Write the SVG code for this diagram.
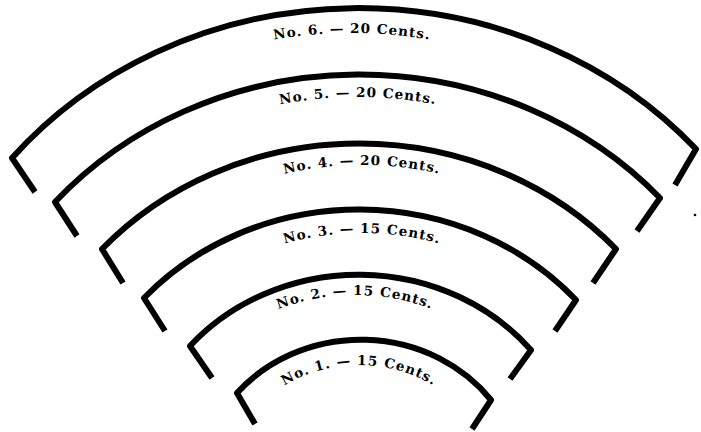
<svg xmlns="http://www.w3.org/2000/svg" width="701" height="432" viewBox="0 0 701 432">
<style>
.arc{fill:none;stroke:#000;stroke-width:6;stroke-linejoin:round;stroke-linecap:butt}
.lbl{font-family:"DejaVu Serif","Liberation Serif",serif;font-weight:bold;font-size:13.5px;letter-spacing:1px;fill:#000}
</style>
<defs>
<path id="tp6" d="M-68.4,416.4 A420.4 383.4 0 0 1 772.4,416.4"/>
<path id="tp5" d="M-20,441.8 A378 344.8 0 0 1 736,441.8"/>
<path id="tp4" d="M41.2,457.4 A320.8 292.4 0 0 1 682.8,457.4"/>
<path id="tp3" d="M99.9,471.3 A262.1 238.3 0 0 1 624.1,471.3"/>
<path id="tp2" d="M156.1,475.6 A198.9 180.6 0 0 1 553.9,475.6"/>
<path id="tp1" d="M225.5,485.2 A133.5 120.2 0 0 1 492.5,485.2"/>
</defs>
<rect width="701" height="432" fill="#fff"/>
<g id="connectors">
<path id="arc6" class="arc" d="M35,192 L12,158 A448.4 411.4 0 0 1 696,149 L675,185"/>
<path id="arc5" class="arc" d="M77,236 L55,202 A403 369.8 0 0 1 660,198 L637,231"/>
<path id="arc4" class="arc" d="M123,283 L102,249 A344.8 316.4 0 0 1 616,249 L593,283"/>
<path id="arc3" class="arc" d="M165,331 L144,298 A288.1 264.3 0 0 1 576,300 L555,331"/>
<path id="arc2" class="arc" d="M212,378 L190,346 A221.9 203.6 0 0 1 531,350 L510,379"/>
<path id="arc1" class="arc" d="M255,424 L237,393 A161.5 148.2 0 0 1 491,400 L472,429"/>
</g>
<g id="label6"><text class="lbl" text-anchor="middle"><textPath href="#tp6" startOffset="50%">No. 6. — 20 Cents.</textPath></text></g>
<g id="label5"><text class="lbl" text-anchor="middle"><textPath href="#tp5" startOffset="50%">No. 5. — 20 Cents.</textPath></text></g>
<g id="label4"><text class="lbl" text-anchor="middle"><textPath href="#tp4" startOffset="50%">No. 4. — 20 Cents.</textPath></text></g>
<g id="label3"><text class="lbl" text-anchor="middle"><textPath href="#tp3" startOffset="50%">No. 3. — 15 Cents.</textPath></text></g>
<g id="label2"><text class="lbl" text-anchor="middle"><textPath href="#tp2" startOffset="50%">No. 2. — 15 Cents.</textPath></text></g>
<g id="label1"><text class="lbl" text-anchor="middle"><textPath href="#tp1" startOffset="50%">No. 1. — 15 Cents.</textPath></text></g>
<circle id="dot" cx="695" cy="215" r="1.3" fill="#000"/>
</svg>
